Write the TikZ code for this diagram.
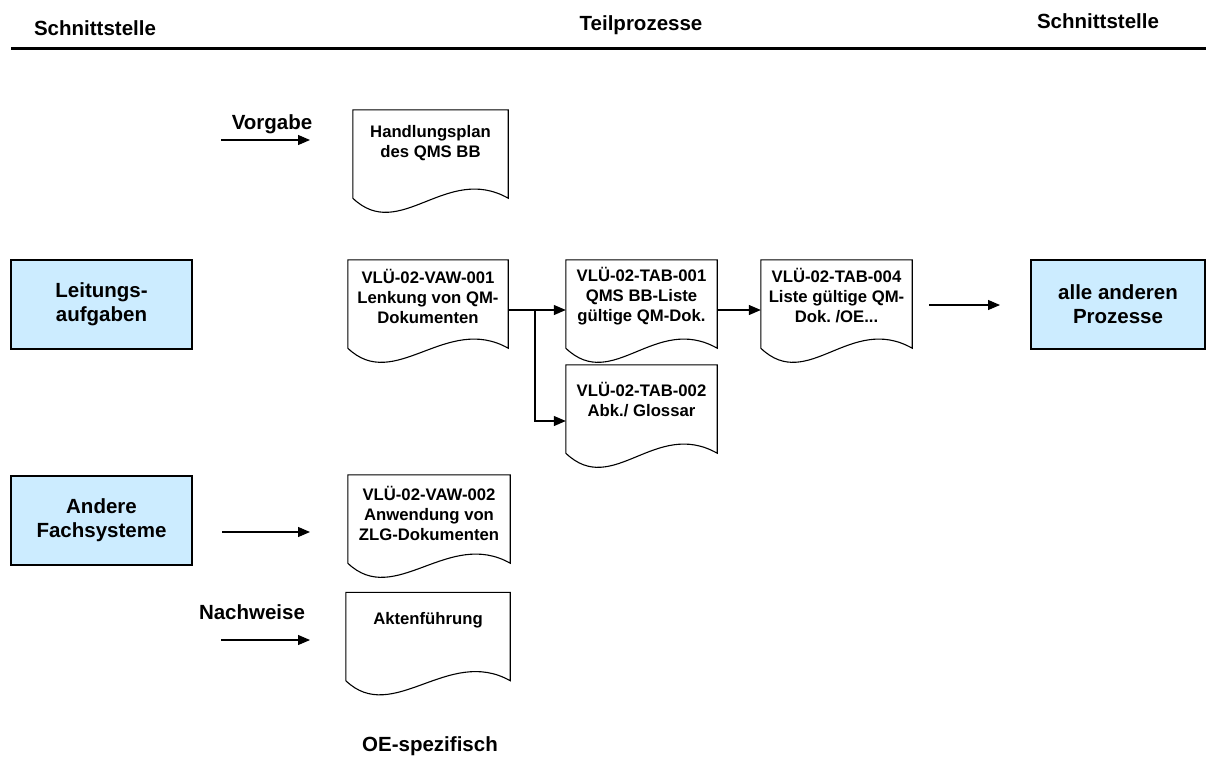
\documentclass[tikz,border=0pt]{standalone}
\usepackage{fontspec}
\setmainfont{Liberation Sans}
\frenchspacing
\usetikzlibrary{arrows.meta}
\definecolor{boxblue}{RGB}{204,236,255}
\tikzset{
  every node/.style={font=\bfseries},
  headtxt/.style={font=\fontsize{20.5}{24}\selectfont\bfseries, inner sep=0pt},
  lbltxt/.style={font=\fontsize{20.5}{24}\selectfont\bfseries, inner sep=0pt},
  doctxt/.style={font=\fontsize{16.7}{20}\selectfont\bfseries, align=center, inner sep=0pt},
  doc/.style={minimum width=155pt, minimum height=88pt, inner sep=0pt},
  docline/.style={line width=1.1pt, fill=white},
  bluebox/.style={draw, line width=1.1pt, fill=boxblue, minimum width=181pt, minimum height=89pt,
    align=center, inner sep=0pt, font=\fontsize{20.5}{24}\selectfont\bfseries},
  flow/.style={line width=1.2pt, -{Triangle[length=12pt,width=10pt]}},
}
\begin{document}
\begin{tikzpicture}[x=1pt, y=-1pt]
\useasboundingbox (0,0) rectangle (1206,769);

% column headings and rule
\node[headtxt] (hleft) at (95,28) {Schnittstelle};
\node[headtxt] (hmid) at (641,25) {Teilprozesse};
\node[headtxt] (hright) at (1098,21) {Schnittstelle};
\coordinate (ruleL) at (11,48);
\coordinate (ruleR) at (1206,48);
\draw[line width=3pt] (ruleL) -- (ruleR);

% interface boxes
\node[bluebox] (la) at (101.5,304.5) {Leitungs-\\aufgaben};
\node[bluebox] (af) at (101.5,520.5) {Andere\\Fachsysteme};
\node[bluebox, minimum width=174pt] (ap) at (1118,304.5) {alle anderen\\Prozesse};

% document shapes (frames only)
\node[doc] (hp) at (430.5,154) {};
\node[doc, minimum width=160pt] (vaw1) at (428,304) {};
\node[doc, minimum width=151pt] (tab1) at (641.5,304) {};
\node[doc, minimum width=151pt] (tab4) at (836.5,304) {};
\node[doc, minimum width=151pt] (tab2) at (641.5,409) {};
\node[doc, minimum width=162pt] (vaw2) at (429,519) {};
\node[doc, minimum width=164pt] (akt) at (428,636.5) {};

\foreach \n in {hp,vaw1,tab1,tab4,tab2,vaw2,akt}{
  \draw[docline] (\n.north west) -- (\n.south west)
    .. controls +(47,45) and +(-62,-35) .. (\n.south east)
    -- (\n.north east) -- cycle;
}

% document texts
\node[doctxt] (hpt) at (430.5,143) {Handlungsplan\\des QMS BB};
\node[doctxt] (vaw1t) at (428,296) {VLÜ-02-VAW-001\\Lenkung von QM-\\Dokumenten};
\node[doctxt] (tab1t) at (641.5,296) {VLÜ-02-TAB-001\\QMS BB-Liste\\gültige QM-Dok.};
\node[doctxt] (tab4t) at (836.5,296) {VLÜ-02-TAB-004\\Liste gültige QM-\\Dok. /OE...};
\node[doctxt] (tab2t) at (641.5,400) {VLÜ-02-TAB-002\\Abk./ Glossar};
\node[doctxt] (vaw2t) at (429,513) {VLÜ-02-VAW-002\\Anwendung von\\ZLG-Dokumenten};
\node[doctxt] (aktt) at (428,620) {Aktenführung};

% side labels
\node[lbltxt] (vorg) at (272,124) {Vorgabe};
\node[lbltxt] (nachw) at (252,612) {Nachweise};
\node[lbltxt] (oesp) at (430,746) {OE-spezifisch};

% free-standing input/output arrows
\coordinate (vA) at (221,140);  \coordinate (vB) at (310,140);
\coordinate (fA) at (222,532);  \coordinate (fB) at (310,532);
\coordinate (nA) at (221,640);  \coordinate (nB) at (310,640);
\coordinate (pA) at (929,305);  \coordinate (pB) at (1000,305);
\draw[flow] (vA) -- (vB);
\draw[flow] (fA) -- (fB);
\draw[flow] (nA) -- (nB);
\draw[flow] (pA) -- (pB);

% document flow
\coordinate (br) at (535,310);
\draw[flow] ([yshift=-6pt]vaw1.east) -- ([yshift=-6pt]tab1.west);
\draw[flow] ([yshift=-6pt]tab1.east) -- ([yshift=-6pt]tab4.west);
\draw[flow] (br) |- ([yshift=-12pt]tab2.west);
\end{tikzpicture}
\end{document}
